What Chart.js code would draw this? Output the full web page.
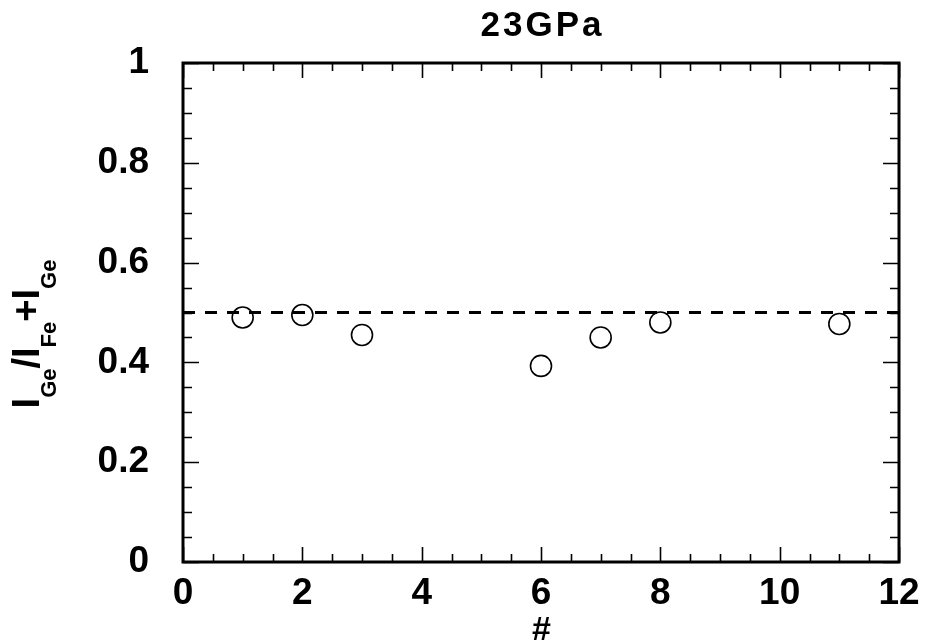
<!doctype html>
<html lang="en">
<head>
<meta charset="utf-8">
<title>23GPa</title>
<style>
  * { margin: 0; padding: 0; box-sizing: border-box; }
  html, body { background: #fff; width: 925px; height: 644px; overflow: hidden; }
  #wrap { position: relative; width: 925px; height: 644px; }
</style>
</head>
<body>
<div id="wrap"><canvas id="c" width="925" height="644"></canvas></div>
<script src="https://cdn.jsdelivr.net/npm/chart.js@4.4.1/dist/chart.umd.min.js"></script>
<script>
  // measured points (sample #, intensity ratio)
  const sampleNo = [1, 2, 3, 6, 7, 8, 11];
  const ratio = [0.490, 0.495, 0.455, 0.393, 0.450, 0.480, 0.477];
  // dashed reference line at 0.5
  const refX = [0, 12];
  const refY = [0.5, 0.5];
  const xTicks = [0, 2, 4, 6, 8, 10, 12];
  const yTicks = [0, 0.2, 0.4, 0.6, 0.8, 1];
  const TITLE = "23GPa";

  const FONT = '"Liberation Sans", Arial, Helvetica, sans-serif';

  // frame + inward major/minor ticks on all four sides
  const frame = {
    id: "frame",
    afterDraw(chart) {
      const { ctx, chartArea: a, scales: { x, y } } = chart;
      ctx.save();
      ctx.strokeStyle = "#000";
      ctx.lineWidth = 1.6;
      const sub = 4;
      ctx.beginPath();
      for (let i = 0; i < xTicks.length; i++) {
        const v = xTicks[i];
        for (let k = 0; k < (i < xTicks.length - 1 ? sub : 1); k++) {
          const val = k === 0 ? v : v + (xTicks[i + 1] - v) * k / sub;
          const px = Math.round(x.getPixelForValue(val)) + 0.5;
          const len = k === 0 ? 15 : 8;
          ctx.moveTo(px, a.bottom); ctx.lineTo(px, a.bottom - len);
          ctx.moveTo(px, a.top); ctx.lineTo(px, a.top + len);
        }
      }
      for (let i = 0; i < yTicks.length; i++) {
        const v = yTicks[i];
        for (let k = 0; k < (i < yTicks.length - 1 ? sub : 1); k++) {
          const val = k === 0 ? v : v + (yTicks[i + 1] - v) * k / sub;
          const py = Math.round(y.getPixelForValue(val)) + 0.5;
          const len = k === 0 ? 16 : 9;
          ctx.moveTo(a.left, py); ctx.lineTo(a.left + len, py);
          ctx.moveTo(a.right, py); ctx.lineTo(a.right - len, py);
        }
      }
      ctx.stroke();
      ctx.lineWidth = 3;
      ctx.strokeRect(a.left, a.top, a.right - a.left, a.bottom - a.top);
      ctx.restore();
    }
  };

  // spaced-out bold title over the plot area
  const title = {
    id: "spacedTitle",
    afterDraw(chart) {
      const { ctx, chartArea: a } = chart;
      ctx.save();
      ctx.font = "bold 35px " + FONT;
      ctx.letterSpacing = "3px";
      ctx.fillStyle = "#000";
      ctx.textBaseline = "middle";
      const w = ctx.measureText(TITLE).width - 3;
      ctx.fillText(TITLE, (a.left + a.right) / 2 - w / 2, 26);
      ctx.restore();
    }
  };

  // rotated y label: I_Ge / I_Fe + I_Ge
  const yLabel = {
    id: "ylabel",
    afterDraw(chart) {
      const { ctx } = chart;
      const parts = [["I", 0], ["Ge", 1], ["/", 0], ["I", 0], ["Fe", 1], ["+", 0], ["I", 0], ["Ge", 1]];
      const big = "bold 38px " + FONT, small = "bold 22px " + FONT;
      ctx.save();
      ctx.translate(39, 334);
      ctx.rotate(-Math.PI / 2);
      ctx.fillStyle = "#000";
      ctx.textBaseline = "alphabetic";
      let total = 0;
      const w = parts.map(([t, s]) => { ctx.font = s ? small : big; const m = ctx.measureText(t).width; total += m; return m; });
      let u = -total / 2;
      parts.forEach(([t, s], i) => {
        ctx.font = s ? small : big;
        ctx.fillText(t, u, s ? 17 : 0);
        u += w[i];
      });
      ctx.restore();
    }
  };

  new Chart(document.getElementById("c"), {
    type: "scatter",
    data: {
      datasets: [
        { data: sampleNo.map((v, i) => ({ x: v, y: ratio[i] })), pointStyle: "circle", pointRadius: 10.5,
          pointHoverRadius: 10.5, borderColor: "#000", backgroundColor: "rgba(0,0,0,0)", borderWidth: 1.6 },
        { type: "line", data: refX.map((v, i) => ({ x: v, y: refY[i] })), borderColor: "#000", borderWidth: 2.8,
          borderDash: [12, 10], pointRadius: 0, fill: false }
      ]
    },
    options: {
      responsive: false, animation: false, devicePixelRatio: 1,
      layout: { padding: { top: 63, right: 26, bottom: 0, left: 0 } },
      plugins: { legend: { display: false }, tooltip: { enabled: false }, title: { display: false } },
      scales: {
        x: {
          type: "linear", min: 0, max: 12,
          afterBuildTicks: s => { s.ticks = xTicks.map(v => ({ value: v })); },
          afterFit: s => { s.height = 82; },
          grid: { display: false }, border: { display: false },
          ticks: { color: "#000", padding: 2, maxRotation: 0, autoSkip: false,
            font: { family: FONT, size: 37, weight: "bold" } },
          title: { display: true, text: "#", color: "#000", padding: { top: 0, bottom: -4 },
            font: { family: FONT, size: 34, weight: "bold", style: "italic", lineHeight: 1 } }
        },
        y: {
          type: "linear", min: 0, max: 1,
          afterBuildTicks: s => { s.ticks = yTicks.map(v => ({ value: v })); },
          afterFit: s => { s.width = 183; },
          grid: { display: false }, border: { display: false },
          ticks: { color: "#000", padding: 26, autoSkip: false, callback: v => String(Number(v.toFixed(1))),
            font: { family: FONT, size: 37, weight: "bold" } }
        }
      }
    },
    plugins: [frame, title, yLabel]
  });
</script>
</body>
</html>
